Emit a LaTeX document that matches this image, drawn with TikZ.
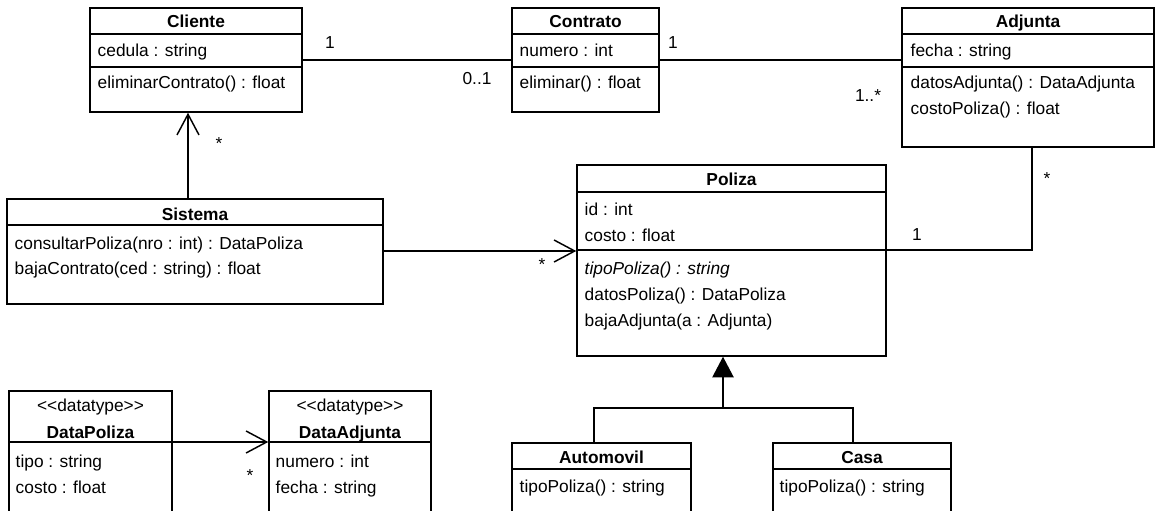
\documentclass[tikz,border=0pt]{standalone}
\usepackage{fontspec}
\setmainfont{Liberation Sans}
\usetikzlibrary{arrows.meta,fit}
\begin{document}
\begin{tikzpicture}[x=0.75pt,y=-0.75pt,
  line width=1.1pt,
  box/.style={draw, fit={#1}, inner sep=0pt},
  txt/.style={anchor=base west, inner sep=0pt, font=\fontsize{13}{15}\selectfont},
  ttl/.style={anchor=base, inner sep=0pt, font=\fontsize{13}{15}\selectfont\bfseries},
  stereo/.style={anchor=base, inner sep=0pt, font=\fontsize{13}{15}\selectfont},
  mult/.style={inner sep=0pt, font=\fontsize{13}{15}\selectfont},
  openarr/.style={-{Straight Barb[length=15.5pt,width=16.5pt,line width=1.1pt]}},
  genarr/.style={-{Triangle[length=15.5pt,width=16pt]}}]
\useasboundingbox (0,0) rectangle (1155,510);
\clip (0,0) rectangle (1155,510);

% ---------- Cliente
\node[box={(90,8) (302,112)}] (cli) {};
\draw (90,34) -- (302,34) (90,67) -- (302,67);
\node[ttl] (cliT) at (196,28) {Cliente};
\node[txt] (cliA) at (97,57) {cedula : string};
\node[txt] (cliM) at (97,89) {eliminarContrato() : float};

% ---------- Contrato
\node[box={(512,8) (659,112)}] (con) {};
\draw (512,34) -- (659,34) (512,67) -- (659,67);
\node[ttl] (conT) at (585.5,28) {Contrato};
\node[txt] (conA) at (519,57) {numero : int};
\node[txt] (conM) at (519,89) {eliminar() : float};

% ---------- Adjunta
\node[box={(902,8) (1153.8,147)}] (adj) {};
\draw (902,34) -- (1154,34) (902,67) -- (1154,67);
\node[ttl] (adjT) at (1028,28) {Adjunta};
\node[txt] (adjA) at (910,57) {fecha : string};
\node[txt] (adjM1) at (910,89) {datosAdjunta() : DataAdjunta};
\node[txt] (adjM2) at (910,114) {costoPoliza() : float};

% ---------- Sistema
\node[box={(7,199) (383,304)}] (sis) {};
\draw (7,225) -- (383,225);
\node[ttl] (sisT) at (195,220) {Sistema};
\node[txt] (sisM1) at (14,249) {consultarPoliza(nro : int) : DataPoliza};
\node[txt] (sisM2) at (14,274) {bajaContrato(ced : string) : float};

% ---------- Poliza
\node[box={(577,165) (886,356)}] (pol) {};
\draw (577,192) -- (886,192) (577,250) -- (886,250);
\node[ttl] (polT) at (731.5,185) {Poliza};
\node[txt] (polA1) at (584,215) {id : int};
\node[txt] (polA2) at (584,241) {costo : float};
\node[txt,font=\fontsize{13}{15}\selectfont\itshape] (polM1) at (584,274) {tipoPoliza() : string};
\node[txt] (polM2) at (584,300) {datosPoliza() : DataPoliza};
\node[txt] (polM3) at (584,326) {bajaAdjunta(a : Adjunta)};

% ---------- DataPoliza
\node[box={(9,391) (172,530)}] (dp) {};
\draw (9,442) -- (172,442);
\node[stereo] (dpS) at (90.5,411) {<{}<datatype>{}>};
\node[ttl] (dpT) at (90.5,438) {DataPoliza};
\node[txt] (dpA1) at (15,467) {tipo : string};
\node[txt] (dpA2) at (15,493) {costo : float};

% ---------- DataAdjunta
\node[box={(269,391) (431,530)}] (da) {};
\draw (269,442) -- (431,442);
\node[stereo] (daS) at (350,411) {<{}<datatype>{}>};
\node[ttl] (daT) at (350,438) {DataAdjunta};
\node[txt] (daA1) at (275,467) {numero : int};
\node[txt] (daA2) at (275,493) {fecha : string};

% ---------- Automovil
\node[box={(512,443) (691,530)}] (aut) {};
\draw (512,469) -- (691,469);
\node[ttl] (autT) at (601.5,463) {Automovil};
\node[txt] (autM) at (519,492) {tipoPoliza() : string};

% ---------- Casa
\node[box={(773,443) (951,530)}] (cas) {};
\draw (773,469) -- (951,469);
\node[ttl] (casT) at (862,463) {Casa};
\node[txt] (casM) at (779,492) {tipoPoliza() : string};

% ---------- connectors
\draw (cli.east |- 0,60) -- (con.west |- 0,60);
\draw (con.east |- 0,60) -- (adj.west |- 0,60);
\draw[openarr] (sis.north -| 188,0) -- (cli.south -| 188,0);
\draw[openarr] (sis.east |- 0,251) -- (pol.west |- 0,251);
\draw (adj.south -| 1032,0) |- (pol.east |- 0,250);
\draw[openarr] (dp.east |- 0,442) -- (da.west |- 0,442);
\coordinate (gen) at (723,408);
\draw[genarr] (gen) -- (pol.south -| gen);
\draw (aut.north -| 594,0) |- (gen) -| (cas.north -| 853,0);

% ---------- multiplicities
\node[mult] (m1) at (330,43) {1};
\node[mult] (m2) at (477,79) {0..1};
\node[mult] (m3) at (673,43) {1};
\node[mult] (m4) at (868,96) {1..*};
\node[mult] (m5) at (1047,179) {*};
\node[mult] (m6) at (917,235) {1};
\node[mult] (m7) at (219,144) {*};
\node[mult] (m8) at (542,265) {*};
\node[mult] (m9) at (250,476) {*};
\end{tikzpicture}
\end{document}
